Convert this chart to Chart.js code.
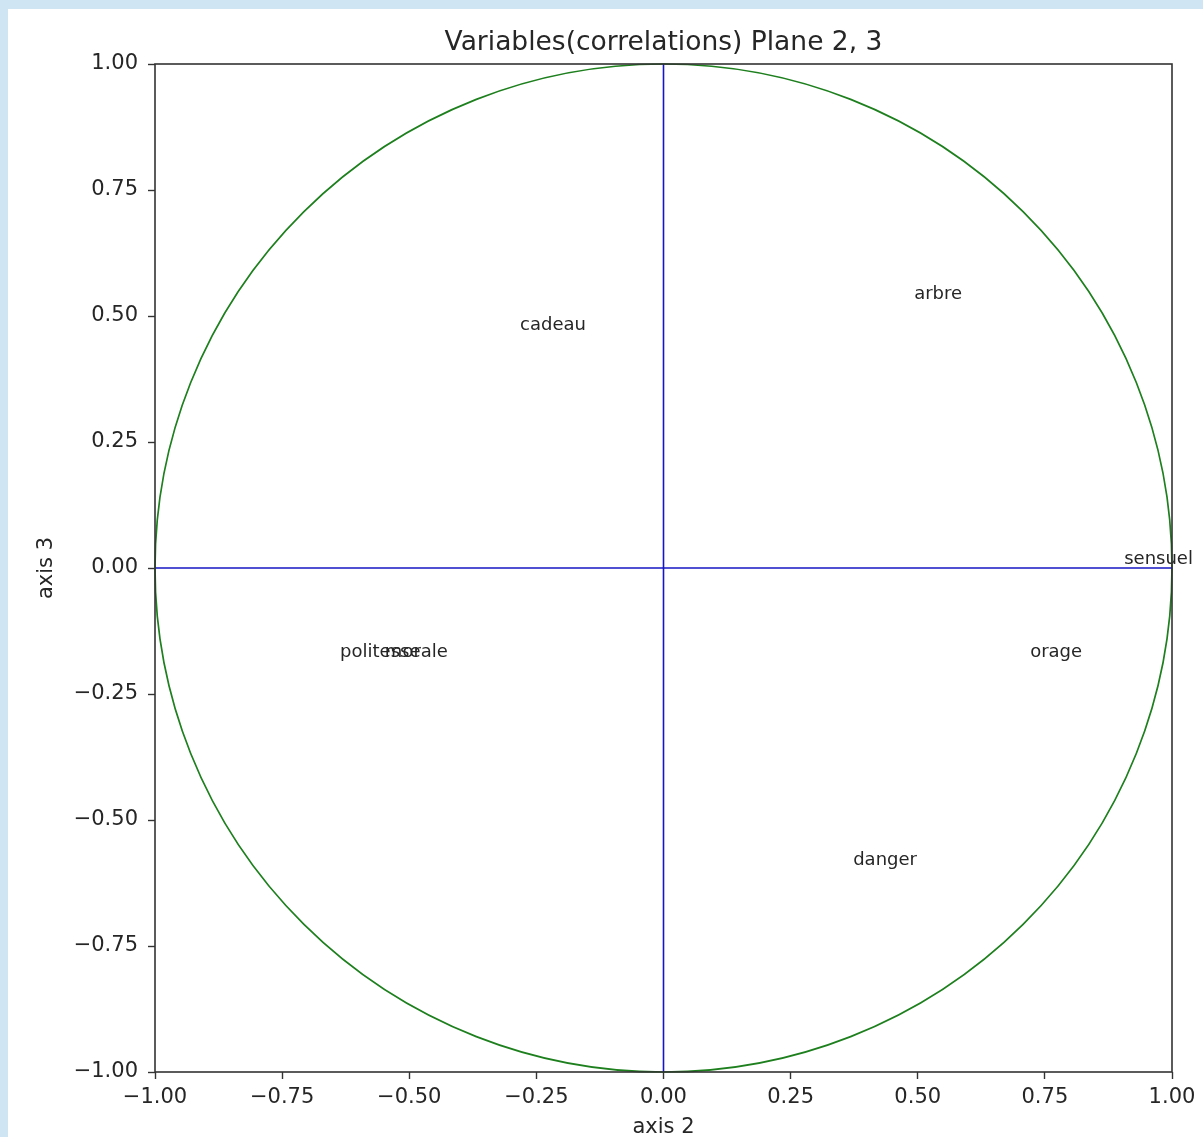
<!DOCTYPE html>
<html>
<head>
<meta charset="utf-8">
<script src="https://cdn.jsdelivr.net/npm/chart.js@4.4.1/dist/chart.umd.min.js"></script>
<style>
  html, body { margin: 0; padding: 0; overflow: hidden; background: #cfe5f3; }
  body { width: 1203px; height: 1137px; position: relative; }
  #wrap { position: absolute; left: 8px; top: 9px; width: 1195px; height: 1140px; background: #ffffff; }
  canvas { display: block; }
</style>
</head>
<body>
<div id="wrap"><canvas id="chart" width="1195" height="1140"></canvas></div>
<script>
// Variable coordinates on factorial axes 2 and 3
const variableNames = ['cadeau', 'arbre', 'sensuel', 'politesse', 'morale', 'orage', 'danger'];
const axis2Coords = [-0.282, 0.493, 0.906, -0.636, -0.548, 0.721, 0.373];
const axis3Coords = [0.472, 0.534, 0.008, -0.177, -0.177, -0.177, -0.589];

// Reference cross through the origin
const horizontalLine = [[-1, 0], [1, 0]];
const verticalLine = [[0, -1], [0, 1]];

// Axis range and tick labels
const axisMin = -1;
const axisMax = 1;
const tickStep = 0.25;

const FONT = "'DejaVu Sans', sans-serif";
const TEXT = '#262626';

const toPoints = (pairs) => pairs.map(([x, y]) => ({ x, y }));
const fmtTick = (v) => {
  const s = Math.abs(v).toFixed(2);
  return v < -1e-9 ? '\u2212' + s : s;
};

// Unit correlation circle, frame, title and point labels
const decorations = {
  id: 'decorations',
  beforeDatasetsDraw(chart) {
    const { ctx, scales: { x, y } } = chart;
    const cx = x.getPixelForValue(0), cy = y.getPixelForValue(0);
    const rx = x.getPixelForValue(1) - cx;
    const ry = cy - y.getPixelForValue(1);
    ctx.save();
    ctx.strokeStyle = '#1d7f1d';
    ctx.lineWidth = 1.7;
    ctx.beginPath();
    ctx.ellipse(cx, cy, rx, ry, 0, 0, Math.PI * 2);
    ctx.stroke();
    ctx.restore();
  },
  afterDatasetsDraw(chart) {
    const { ctx, chartArea: a } = chart;
    const meta = chart.getDatasetMeta(0);
    ctx.save();
    ctx.fillStyle = TEXT;
    ctx.font = '18px ' + FONT;
    ctx.textAlign = 'left';
    ctx.textBaseline = 'alphabetic';
    meta.data.forEach((pt, i) => {
      ctx.fillText(variableNames[i], pt.x, pt.y);
    });
    ctx.restore();

    ctx.save();
    ctx.strokeStyle = '#333333';
    ctx.lineWidth = 1.6;
    ctx.strokeRect(a.left, a.top, a.right - a.left, a.bottom - a.top);
    ctx.fillStyle = TEXT;
    ctx.font = '26.5px ' + FONT;
    ctx.textAlign = 'center';
    ctx.textBaseline = 'alphabetic';
    ctx.fillText('Variables(correlations) Plane 2, 3', (a.left + a.right) / 2, 41);
    ctx.restore();
  }
};

const tickFont = { family: FONT, size: 21 };

new Chart(document.getElementById('chart'), {
  type: 'scatter',
  data: {
    datasets: [
      {
        label: 'variables',
        data: axis2Coords.map((v, i) => ({ x: v, y: axis3Coords[i] })),
        pointRadius: 0,
        pointHoverRadius: 0
      },
      {
        label: 'axis 2 line',
        data: toPoints(horizontalLine),
        showLine: true,
        borderColor: '#1616c4',
        borderWidth: 1.6,
        pointRadius: 0
      },
      {
        label: 'axis 3 line',
        data: toPoints(verticalLine),
        showLine: true,
        borderColor: '#1616c4',
        borderWidth: 1.6,
        pointRadius: 0
      }
    ]
  },
  options: {
    responsive: false,
    animation: false,
    events: [],
    layout: { padding: { left: 0, top: 55, right: 31, bottom: 0 } },
    plugins: {
      legend: { display: false },
      tooltip: { enabled: false },
      title: { display: false }
    },
    scales: {
      x: {
        type: 'linear',
        min: axisMin,
        max: axisMax,
        afterFit(scale) { scale.height = 77; },
        grid: { drawOnChartArea: false, drawTicks: true, tickLength: 7, tickColor: '#333333', tickWidth: 1.4 },
        border: { display: false },
        ticks: { stepSize: tickStep, color: TEXT, font: tickFont, padding: 6, maxRotation: 0, callback: fmtTick },
        title: { display: true, text: 'axis 2', color: TEXT, font: tickFont, padding: { top: 0, bottom: 9 } }
      },
      y: {
        type: 'linear',
        min: axisMin,
        max: axisMax,
        afterFit(scale) { scale.width = 147; },
        grid: { drawOnChartArea: false, drawTicks: true, tickLength: 7, tickColor: '#333333', tickWidth: 1.4 },
        border: { display: false },
        ticks: { stepSize: tickStep, color: TEXT, font: tickFont, padding: 10, callback: fmtTick },
        title: { display: true, text: 'axis 3', color: TEXT, font: tickFont, padding: { top: 26, bottom: 0 } }
      }
    }
  },
  plugins: [decorations]
});
</script>
</body>
</html>
